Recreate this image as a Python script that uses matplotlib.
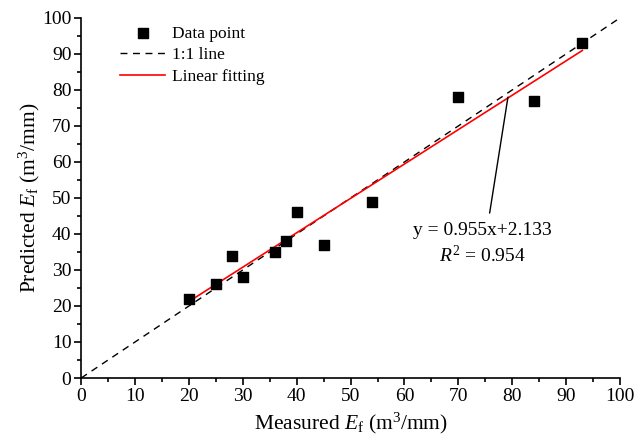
import numpy as np
import matplotlib
matplotlib.use('Agg')
import matplotlib.pyplot as plt
from matplotlib.ticker import MultipleLocator

plt.rcParams['font.family'] = ['Liberation Serif', 'DejaVu Serif']
plt.rcParams['mathtext.fontset'] = 'custom'
plt.rcParams['mathtext.rm'] = 'Liberation Serif'
plt.rcParams['mathtext.it'] = 'Liberation Serif:italic'

# measured vs predicted values
measured = [20, 25, 28, 30, 36, 38, 40, 45, 54, 70, 84, 93]
predicted = [22, 26, 34, 28, 35, 38, 46, 37, 49, 78, 77, 93]

# fit parameters shown on the chart
slope = 0.955
intercept = 2.133
r2 = 0.954

fig = plt.figure(figsize=(6.34, 4.36), dpi=100)
ax = fig.add_axes([0.128, 0.133, 0.850, 0.826])

ref = np.array([0, 100])
ax.plot(ref, ref, 'k--', lw=1.0, dashes=(5, 4), label='1:1 line', zorder=2)

xf = np.array([min(measured), max(measured)])
ax.plot(xf, slope * xf + intercept, color='red', lw=1.2, label='Linear fitting', zorder=3)

ax.scatter(measured, predicted, marker='s', s=42, color='black', label='Data point', zorder=4)

# leader line from the fit to the equation text
ax.annotate('', xy=(79.2, 78.0), xytext=(75.8, 45.8),
            arrowprops=dict(arrowstyle='-', color='black', lw=1.0, shrinkA=0, shrinkB=0))
ax.text(74.5, 37.3, f'y = {slope}x+{intercept}\n$R^2$ = {r2}',
        ha='center', va='center', fontsize=14, linespacing=1.35)

ax.set_xlim(0, 100)
ax.set_ylim(0, 100)
ax.xaxis.set_major_locator(MultipleLocator(10))
ax.yaxis.set_major_locator(MultipleLocator(10))
ax.xaxis.set_minor_locator(MultipleLocator(5))
ax.yaxis.set_minor_locator(MultipleLocator(5))
ax.tick_params(which='major', direction='out', length=5, width=1.2, labelsize=14, pad=2)
ax.tick_params(which='minor', direction='out', length=3, width=1.2)
ax.spines['top'].set_visible(False)
ax.spines['right'].set_visible(False)
ax.spines['left'].set_linewidth(1.2)
ax.spines['bottom'].set_linewidth(1.2)

ax.set_xlabel('Measured $E_\\mathrm{f}$ (m$^3$/mm)', fontsize=15.5, labelpad=4)
ax.set_ylabel('Predicted $E_\\mathrm{f}$ (m$^3$/mm)', fontsize=15.5, labelpad=0)

handles, labels = ax.get_legend_handles_labels()
order = [2, 0, 1]
ax.legend([handles[i] for i in order], [labels[i] for i in order],
          loc='upper left', bbox_to_anchor=(0.072, 0.978), frameon=False, fontsize=12.5,
          handlelength=2.6, handletextpad=0.4, labelspacing=0.3, borderpad=0, borderaxespad=0)

fig.savefig('out.png', dpi=100)
